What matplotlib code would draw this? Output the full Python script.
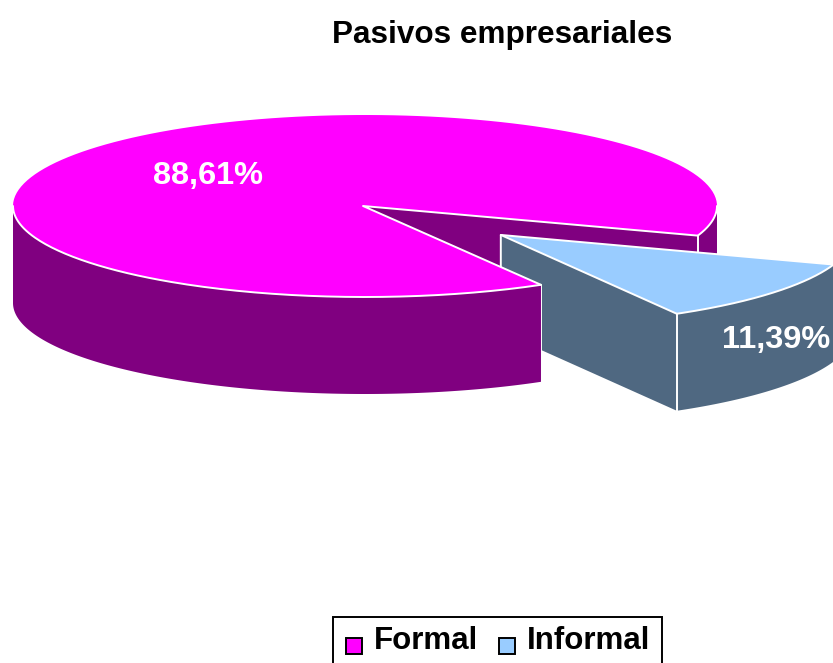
import numpy as np
import matplotlib
matplotlib.use("Agg")
import matplotlib.pyplot as plt
from matplotlib.patches import Polygon, Patch, Rectangle
from matplotlib.legend_handler import HandlerPatch

categories = ["Formal", "Informal"]
shares = [88.61, 11.39]
value_labels = ["88,61%", "11,39%"]
title = "Pasivos empresariales"

MAGENTA, PURPLE = "#FF00FF", "#800080"
BLUE, SLATE = "#99CCFF", "#4F6881"
W, H = 833, 663
CX, CY, RX, RY, DEPTH = 365, 206, 352, 91, 97
APEX = (363, 206)
EXPLODE = 0.5
START = 19.0  # clockwise on screen from 3 o'clock

plt.rcParams["font.family"] = ["Liberation Sans", "DejaVu Sans"]
fig = plt.figure(figsize=(W / 100, H / 100), dpi=100)
ax = fig.add_axes([0, 0, 1, 1])
ax.set_xlim(0, W)
ax.set_ylim(H, 0)
ax.axis("off")

sweep_inf = shares[1] / sum(shares) * 360
a0, a1 = START, START + sweep_inf   # informal slice
amid = np.radians((a0 + a1) / 2)


def arc(cx, cy, d0, d1, dz=0, n=160):
    t = np.radians(np.linspace(d0, d1, n))
    return np.column_stack([cx + RX * np.cos(t), cy + RY * np.sin(t) + dz])


def wall(cx, cy, d0, d1):
    return np.vstack([arc(cx, cy, d0, d1), arc(cx, cy, d0, d1, DEPTH)[::-1]])


def add(pts, fc, z, ec="none", lw=0):
    ax.add_patch(Polygon(pts, closed=True, fc=fc, ec=ec, lw=lw, zorder=z))


def line(pts, z):
    p = np.asarray(pts)
    ax.plot(p[:, 0], p[:, 1], color="white", lw=1.4, zorder=z, solid_capstyle="round")


# main slice: parts lying behind the detached slice
e0 = arc(CX, CY, a0, a0, n=1)[0]
e1 = arc(CX, CY, a1, a1, n=1)[0]
add([APEX, e0, e0 + (0, DEPTH), (APEX[0], APEX[1] + DEPTH)], PURPLE, 1)
add(wall(CX, CY, 0, a0), PURPLE, 1)
line([e0, e0 + (0, DEPTH)], 1.5)

# detached slice
ix = CX + EXPLODE * RX * np.cos(amid)
iy = CY + EXPLODE * RY * np.sin(amid)
i0 = arc(ix, iy, a0, a0, n=1)[0]
i1 = arc(ix, iy, a1, a1, n=1)[0]
add([(ix, iy), i1, i1 + (0, DEPTH), (ix, iy + DEPTH)], SLATE, 2)
add(wall(ix, iy, a0, a1), SLATE, 2)
add(np.vstack([[(ix, iy)], arc(ix, iy, a0, a1)]), BLUE, 3)
line(np.vstack([[(ix, iy + DEPTH)], [(ix, iy)], [i0]]), 3.5)
line([(ix, iy), i1], 3.5)
line(arc(ix, iy, a0, a1), 3.5)
line([i1, i1 + (0, DEPTH)], 3.5)

# main slice: front
add(wall(CX, CY, a1, 180), PURPLE, 4)
add(np.vstack([[APEX], arc(CX, CY, a1, a0 + 360)]), MAGENTA, 5)
line(np.vstack([e0, [APEX], e1]), 6)
line(arc(CX, CY, a1, 180), 6)
line(arc(CX, CY, 0, a0), 6)
line([e1, e1 + (0, DEPTH)], 3.7)

ax.text(208, 176, value_labels[0], color="white", fontsize=23.4, fontweight="bold",
        ha="center", va="center", zorder=7)
ax.text(776, 340, value_labels[1], color="white", fontsize=23.4, fontweight="bold",
        ha="center", va="center", zorder=7, clip_on=False)
ax.text(502, 35, title, color="black", fontsize=22.7, fontweight="bold",
        ha="center", va="center")


def square(legend, orig_handle, xdescent, ydescent, width, height, fontsize):
    return Rectangle((0.7, -1.8), 11.6, 11.6)


handles = [Patch(fc=MAGENTA, ec="black", lw=1.4, label=categories[0]),
           Patch(fc=BLUE, ec="black", lw=1.4, label=categories[1])]
leg = ax.legend(handles=handles, ncol=2, loc="upper left",
                bbox_to_anchor=(333 / W, 1 - 617 / H), bbox_transform=fig.transFigure,
                prop={"size": 22.5, "weight": "bold"}, frameon=True, fancybox=False,
                edgecolor="black", framealpha=1, borderaxespad=0, borderpad=0.38,
                handlelength=0.75, handletextpad=0.18, columnspacing=0.62,
                handler_map={Patch: HandlerPatch(patch_func=square)})
leg.get_frame().set_linewidth(1.4)
for t in leg.get_texts():
    t.set_position((0, 3.2))

fig.savefig("out.png", dpi=100)
